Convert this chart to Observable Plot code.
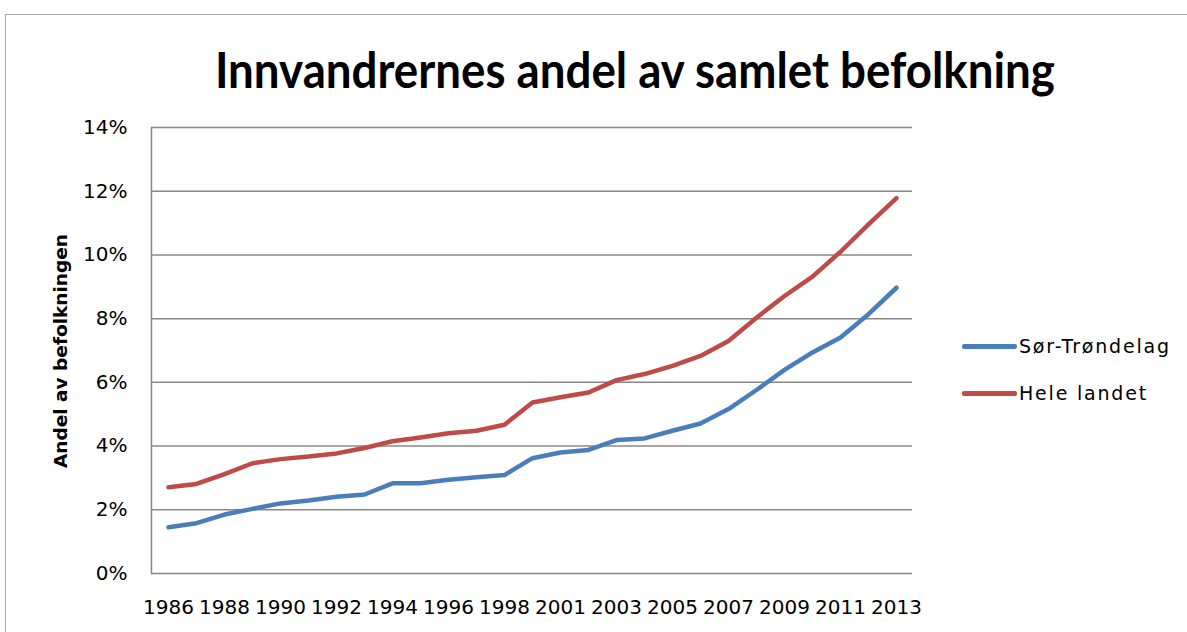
<!DOCTYPE html>
<html>
<head>
<meta charset="utf-8">
<script src="https://cdn.jsdelivr.net/npm/d3@7"></script>
<script src="https://cdn.jsdelivr.net/npm/@observablehq/plot@0.6"></script>
<style>
  html, body { margin: 0; padding: 0; background: #fff; overflow: hidden; }
  #wrap { position: relative; width: 1187px; height: 632px; overflow: hidden; font-family: "DejaVu Sans", sans-serif; }
  #border { position: absolute; left: 5px; top: 14px; width: 1400px; height: 800px; border: 1.5px solid #a6a6a6; box-sizing: border-box; }
  #title { position: absolute; top: 44px; white-space: nowrap; font-family: Lato, "Open Sans", sans-serif; font-weight: 700; font-size: 50px; line-height: 50px; color: #000; transform-origin: center center; }
  #ylabel { position: absolute; left: 60px; top: 351px; white-space: nowrap; font-weight: 700; font-size: 18.5px; color: #000; transform: translate(-50%, -50%) rotate(-90deg); }
  #chart { position: absolute; left: 0; top: 100px; }
  .leg { position: absolute; left: 962px; display: flex; align-items: center; font-size: 19px; letter-spacing: 1.8px; color: #000; }
  .sw { width: 55px; height: 5px; border-radius: 2px; margin-right: 2px; }
</style>
</head>
<body>
<div id="wrap">
  <div id="border"></div>
  <div id="title"></div>
  <div id="ylabel"></div>
  <div id="chart"></div>
  <div id="legend"></div>
</div>
<script>
const titleText = "Innvandrernes andel av samlet befolkning";
const yTitle = "Andel av befolkningen";
const seriesNames = ["Sør-Trøndelag", "Hele landet"];
const seriesColors = ["#4A7EBB", "#BE4B48"];
const years = ["1986","1987","1988","1989","1990","1991","1992","1993","1994","1995","1996","1997","1998","2000","2001","2002","2003","2004","2005","2006","2007","2008","2009","2010","2011","2012","2013"];
const xTickLabels = ["1986","1988","1990","1992","1994","1996","1998","2001","2003","2005","2007","2009","2011","2013"];
const yTicks = [0, 2, 4, 6, 8, 10, 12, 14];
const sorTrondelag = [1.45,1.58,1.85,2.03,2.20,2.29,2.41,2.48,2.83,2.83,2.94,3.02,3.09,3.62,3.80,3.88,4.19,4.24,4.48,4.71,5.16,5.76,6.39,6.94,7.41,8.14,8.97];
const heleLandet = [2.71,2.81,3.12,3.46,3.59,3.67,3.77,3.94,4.15,4.27,4.40,4.48,4.67,5.37,5.53,5.68,6.07,6.26,6.52,6.83,7.30,8.03,8.71,9.32,10.10,10.96,11.78];

const rows = [];
years.forEach((yr, i) => {
  rows.push({year: yr, value: sorTrondelag[i], series: seriesNames[0]});
});
years.forEach((yr, i) => {
  rows.push({year: yr, value: heleLandet[i], series: seriesNames[1]});
});

// Title
const t = document.getElementById("title");
t.textContent = titleText;
const w = t.getBoundingClientRect().width;
t.style.left = (635 - w / 2) + "px";
t.style.transform = `scaleX(${840 / w})`;

document.getElementById("ylabel").textContent = yTitle;

const chart = Plot.plot({
  width: 1187,
  height: 532,
  marginTop: 27,
  marginBottom: 59,
  marginLeft: 151,
  marginRight: 275,
  style: {fontFamily: "DejaVu Sans, sans-serif", fontSize: "20px", color: "#000", background: "transparent", overflow: "visible"},
  x: {type: "point", domain: years, padding: 0.5},
  y: {domain: [0, 14]},
  color: {domain: seriesNames, range: seriesColors},
  marks: [
    Plot.gridY(yTicks, {stroke: "#888888", strokeOpacity: 1, strokeWidth: 1.5}),
    Plot.frame({anchor: "left", stroke: "#888888", strokeWidth: 1.5}),
    Plot.axisY(yTicks, {tickSize: 0, tickPadding: 24, fontSize: 20, tickFormat: d => d + "%", label: null}),
    Plot.axisX(xTickLabels, {tickSize: 0, tickPadding: 26, fontSize: 20, label: null}),
    Plot.line(rows, {x: "year", y: "value", z: "series", stroke: "series", strokeWidth: 4.5, strokeLinejoin: "round", strokeLinecap: "round"})
  ]
});
document.getElementById("chart").appendChild(chart);

// Legend
const legend = document.getElementById("legend");
const legY = [346, 393];
seriesNames.forEach((name, i) => {
  const d = document.createElement("div");
  d.className = "leg";
  d.style.top = (legY[i] - 12) + "px";
  d.style.height = "24px";
  const sw = document.createElement("div");
  sw.className = "sw";
  sw.style.background = seriesColors[i];
  const tx = document.createElement("span");
  tx.textContent = name;
  d.appendChild(sw);
  d.appendChild(tx);
  legend.appendChild(d);
});
</script>
</body>
</html>
